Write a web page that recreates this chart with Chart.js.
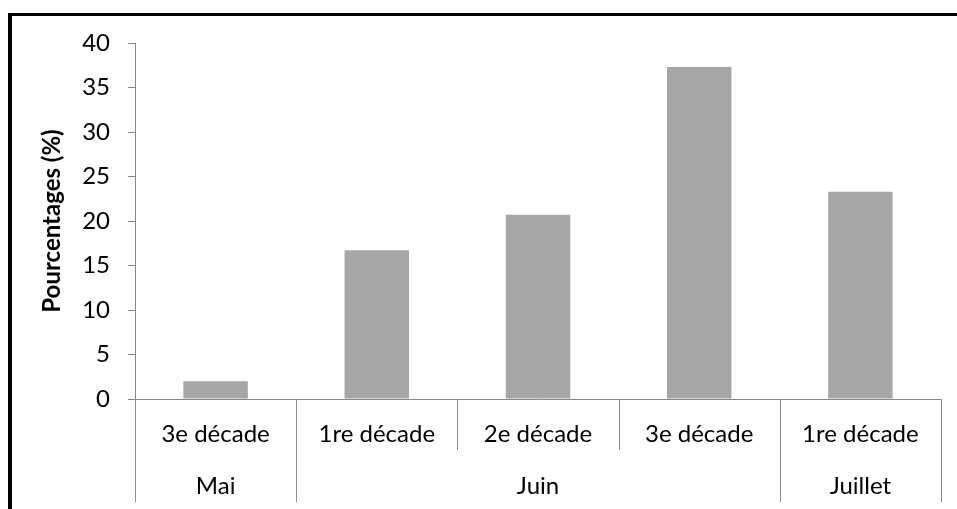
<!DOCTYPE html>
<html>
<head>
<meta charset="utf-8">
<script src="https://cdn.jsdelivr.net/npm/chart.js@4/dist/chart.umd.min.js"></script>
<style>
  html, body { margin: 0; padding: 0; background: #fff; overflow: hidden; }
  #wrap { position: relative; width: 957px; height: 509px; }
  #frame {
    position: absolute; left: 8px; top: 13px; width: 980px; height: 520px;
    border-left: 4px solid #000; border-top: 3px solid #000; box-sizing: border-box;
    pointer-events: none;
  }
  canvas { position: absolute; left: 0; top: 0; }
</style>
</head>
<body>
<div id="wrap">
  <canvas id="chart" width="957" height="509"></canvas>
  <div id="frame"></div>
</div>
<script>
'use strict';

// Data
const decades = ['3e décade', '1re décade', '2e décade', '3e décade', '1re décade'];
const percentages = [2.0, 16.7, 20.7, 37.3, 23.3];
const months = ['Mai', 'Juin', 'Juillet'];
const monthSpans = [1, 3, 1];
const yTicks = { min: 0, max: 40, step: 5 };

const FONT = 'Lato, "Noto Sans", sans-serif';
const AXIS_GREY = '#868686';

// Draws the second category row (months) and the separators under the axis.
const groupAxis = {
  id: 'groupAxis',
  afterDraw(chart) {
    const {ctx, chartArea} = chart;
    const x = chart.scales.x;
    const edge = i => x.getPixelForValue(i - 0.5);
    const monthEdges = [0];
    monthSpans.forEach(s => monthEdges.push(monthEdges[monthEdges.length - 1] + s));

    ctx.save();
    ctx.strokeStyle = '#8c8c8c';
    ctx.lineWidth = 1;
    for (let i = 0; i <= decades.length; i++) {
      const px = Math.round(edge(i)) + 0.5;
      const long = monthEdges.includes(i);
      ctx.beginPath();
      ctx.moveTo(px, chartArea.bottom);
      ctx.lineTo(px, long ? 502 : 450);
      ctx.stroke();
    }

    ctx.fillStyle = '#000';
    ctx.font = '24px ' + FONT;
    ctx.textAlign = 'center';
    ctx.textBaseline = 'alphabetic';
    months.forEach((m, k) => {
      const cx = (edge(monthEdges[k]) + edge(monthEdges[k + 1])) / 2;
      ctx.fillText(m, cx, 494);
    });
    ctx.restore();
  }
};

new Chart(document.getElementById('chart'), {
  type: 'bar',
  data: {
    labels: decades,
    datasets: [{
      data: percentages,
      backgroundColor: '#a6a6a6',
      borderWidth: 0,
      barPercentage: 1,
      categoryPercentage: 0.4
    }]
  },
  options: {
    responsive: false,
    animation: false,
    layout: { padding: { top: 43, right: 16, bottom: 0, left: 0 } },
    plugins: { legend: { display: false }, tooltip: { enabled: false } },
    scales: {
      x: {
        afterFit(scale) { scale.height = 110; },
        grid: { display: false, drawTicks: false },
        border: { display: true, color: AXIS_GREY, width: 1 },
        ticks: { color: '#000', font: { family: FONT, size: 24 }, padding: 21, maxRotation: 0, autoSkip: false }
      },
      y: {
        min: yTicks.min,
        max: yTicks.max,
        afterFit(scale) { scale.width = 135; },
        grid: { drawOnChartArea: false, drawTicks: true, tickLength: 7, color: AXIS_GREY },
        border: { display: true, color: AXIS_GREY, width: 1 },
        ticks: { stepSize: yTicks.step, color: '#000', font: { family: FONT, size: 24 }, padding: 18 },
        title: {
          display: true,
          text: 'Pourcentages (%)',
          color: '#000',
          font: { family: FONT, size: 24, weight: 'bold' },
          padding: { top: 38, bottom: 0 }
        }
      }
    }
  },
  plugins: [groupAxis]
});
</script>
</body>
</html>
